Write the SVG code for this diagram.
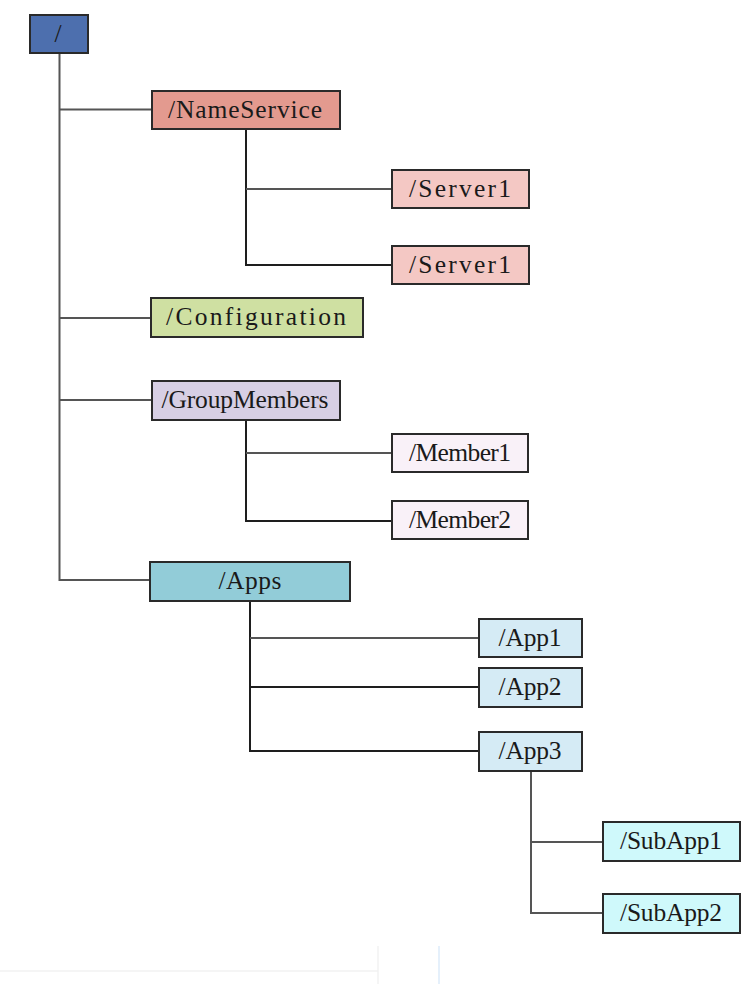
<svg xmlns="http://www.w3.org/2000/svg" width="746" height="984" viewBox="0 0 746 984">
<style>
.box{stroke:#2a2a2a;stroke-width:2}
.lbl{font-family:"Liberation Serif","DejaVu Serif",serif;font-size:25.5px;fill:#1a1a1a;text-anchor:middle}
.c{fill:none;stroke:#555;stroke-width:2}
.d{fill:none;stroke:#1e1e1e;stroke-width:2}
</style>
<rect width="746" height="984" fill="#ffffff"/>
<g id="connectors">
<path class="c" d="M59.5 53 V580 H150"/>
<path class="c" d="M59.5 109.5 H152"/>
<path class="c" d="M59.5 318 H151"/>
<path class="c" d="M59.5 400 H152"/>
<path class="d" d="M246 129 V265 H392"/>
<path class="c" d="M246 189 H392"/>
<path class="d" d="M246 420 V521 H392"/>
<path class="c" d="M246 453 H392"/>
<path class="d" d="M250 601 V751 H479"/>
<path class="c" d="M250 638 H479"/>
<path class="d" d="M250 687 H479"/>
<path class="c" d="M531 771 V913 H603"/>
<path class="c" d="M531 842 H603"/>
</g>
<g id="root"><rect class="box" x="30" y="15" width="58" height="38" fill="#4d6fae"/><text class="lbl" x="58" y="42">/</text></g>
<g id="nameservice"><rect class="box" x="152" y="91" width="188" height="38" fill="#e39a8f"/><text class="lbl" x="245" y="118" textLength="154" lengthAdjust="spacing">/NameService</text></g>
<g id="server1a"><rect class="box" x="392" y="170" width="137" height="38" fill="#f4c8c4"/><text class="lbl" x="460" y="197" textLength="102" lengthAdjust="spacing">/Server1</text></g>
<g id="server1b"><rect class="box" x="392" y="246" width="137" height="38" fill="#f4c8c4"/><text class="lbl" x="460" y="273" textLength="102" lengthAdjust="spacing">/Server1</text></g>
<g id="configuration"><rect class="box" x="151" y="298" width="212" height="39" fill="#cfe0a2"/><text class="lbl" x="256" y="325" textLength="180" lengthAdjust="spacing">/Configuration</text></g>
<g id="groupmembers"><rect class="box" x="152" y="381" width="188" height="39" fill="#d7cfe4"/><text class="lbl" x="245" y="408" textLength="167" lengthAdjust="spacing">/GroupMembers</text></g>
<g id="member1"><rect class="box" x="392" y="434" width="136" height="38" fill="#f9f1f8"/><text class="lbl" x="460" y="461" textLength="102" lengthAdjust="spacing">/Member1</text></g>
<g id="member2"><rect class="box" x="392" y="501" width="136" height="38" fill="#f9f1f8"/><text class="lbl" x="460" y="528" textLength="102" lengthAdjust="spacing">/Member2</text></g>
<g id="apps"><rect class="box" x="150" y="562" width="200" height="39" fill="#92ccd8"/><text class="lbl" x="250" y="589" textLength="63" lengthAdjust="spacing">/Apps</text></g>
<g id="app1"><rect class="box" x="479" y="619" width="103" height="38" fill="#d5ebf5"/><text class="lbl" x="530" y="646" textLength="63" lengthAdjust="spacing">/App1</text></g>
<g id="app2"><rect class="box" x="479" y="668" width="103" height="39" fill="#d5ebf5"/><text class="lbl" x="530" y="695" textLength="63" lengthAdjust="spacing">/App2</text></g>
<g id="app3"><rect class="box" x="479" y="732" width="103" height="39" fill="#d5ebf5"/><text class="lbl" x="530" y="759" textLength="63" lengthAdjust="spacing">/App3</text></g>
<g id="subapp1"><rect class="box" x="603" y="822" width="137" height="39" fill="#cff9fb"/><text class="lbl" x="671" y="849" textLength="102" lengthAdjust="spacing">/SubApp1</text></g>
<g id="subapp2"><rect class="box" x="603" y="894" width="137" height="39" fill="#cff9fb"/><text class="lbl" x="671" y="921" textLength="102" lengthAdjust="spacing">/SubApp2</text></g>
<g id="edges-faint">
<path d="M0 971 H378 M378 946 V984" stroke="#f2f2f2" stroke-width="1.5" fill="none"/>
<path d="M439 946 V984" stroke="#dcebfa" stroke-width="1.5" fill="none"/>
</g>
</svg>
